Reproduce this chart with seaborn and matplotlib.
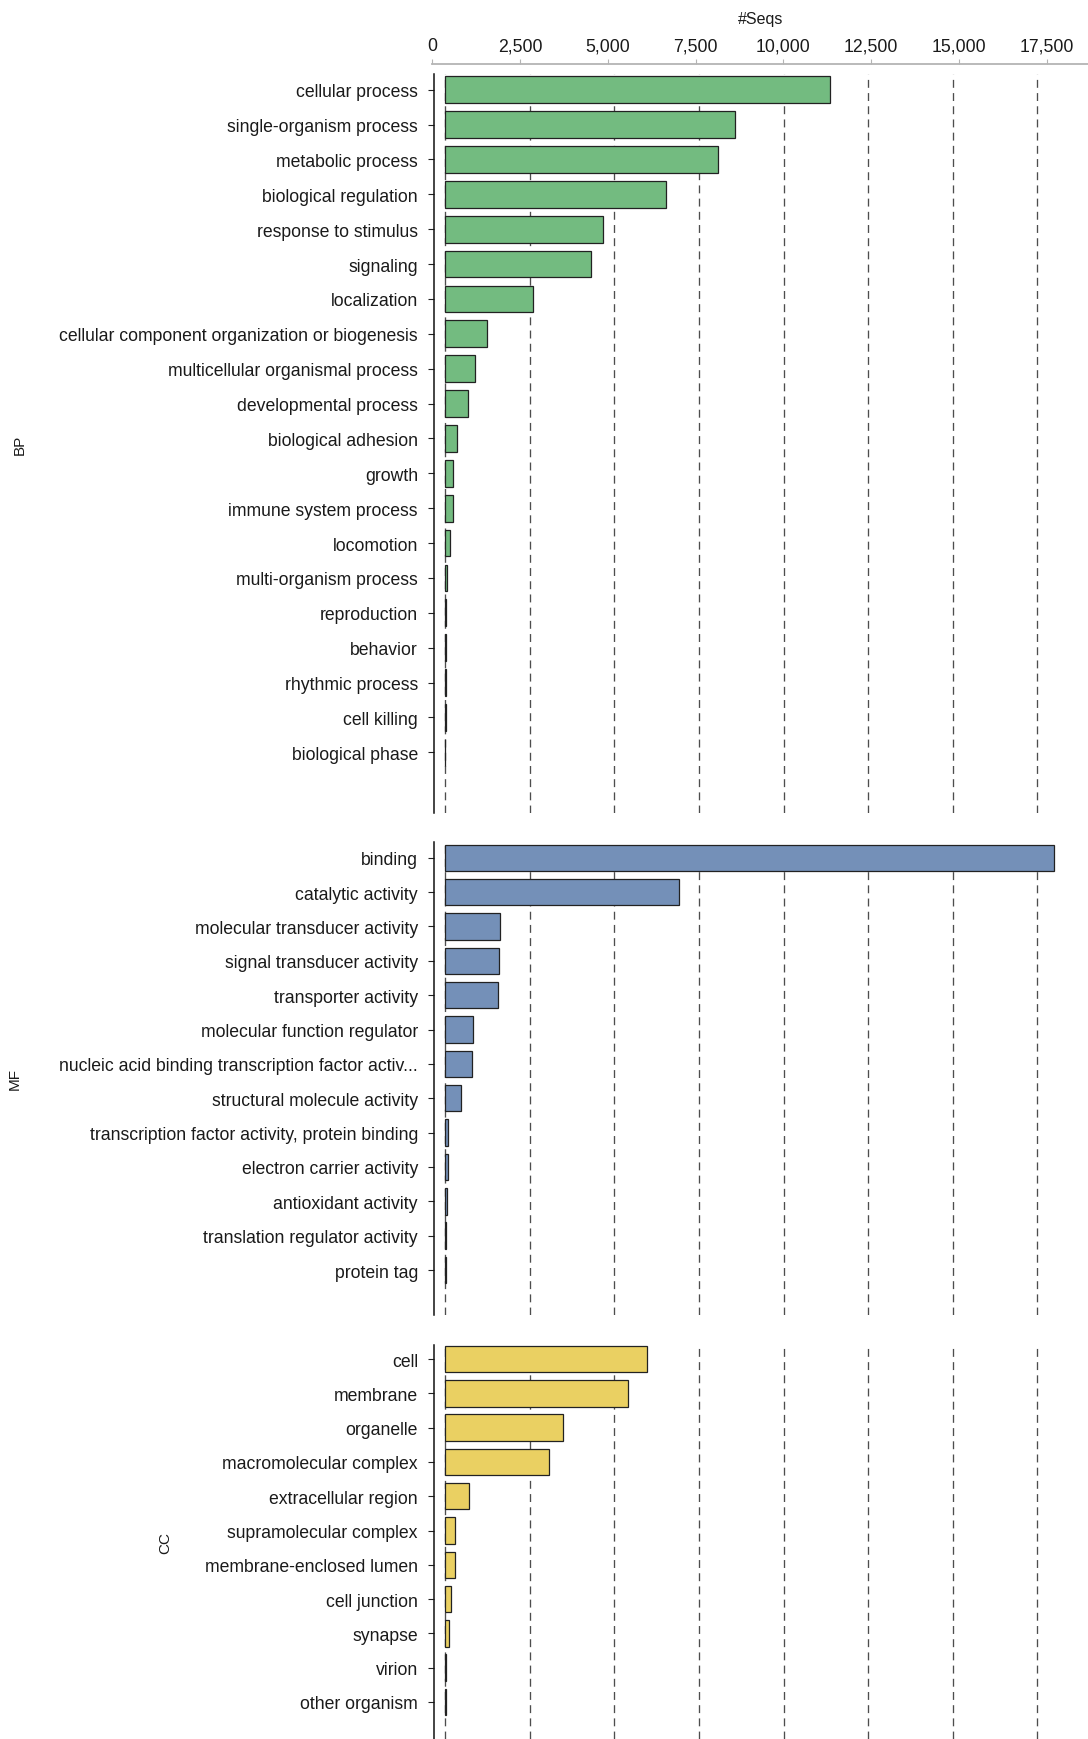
import seaborn as sns
import pandas as pd
import matplotlib.pyplot as plt
import numpy as np

# GO level-2 category counts
bp_terms = ['cellular process', 'single-organism process', 'metabolic process',
            'biological regulation', 'response to stimulus', 'signaling', 'localization',
            'cellular component organization or biogenesis', 'multicellular organismal process',
            'developmental process', 'biological adhesion', 'growth', 'immune system process',
            'locomotion', 'multi-organism process', 'reproduction', 'behavior',
            'rhythmic process', 'cell killing', 'biological phase']
bp_counts = [11380, 8550, 8060, 6510, 4670, 4310, 2590, 1240, 870, 665,
             345, 238, 228, 148, 40, 30, 20, 15, 8, 5]

mf_terms = ['binding', 'catalytic activity', 'molecular transducer activity',
            'signal transducer activity', 'transporter activity', 'molecular function regulator',
            'nucleic acid binding transcription factor activ...', 'structural molecule activity',
            'transcription factor activity, protein binding', 'electron carrier activity',
            'antioxidant activity', 'translation regulator activity', 'protein tag']
mf_counts = [18000, 6920, 1610, 1580, 1560, 805, 780, 450, 89, 69, 60, 10, 8]

cc_terms = ['cell', 'membrane', 'organelle', 'macromolecular complex', 'extracellular region',
            'supramolecular complex', 'membrane-enclosed lumen', 'cell junction', 'synapse',
            'virion', 'other organism']
cc_counts = [5950, 5390, 3490, 3070, 714, 298, 278, 169, 99, 10, 8]

grid_ticks = [0, 2500, 5000, 7500, 10000, 12500, 15000, 17500]
top_labels = ['0', '2,500', '5,000', '7,500', '10,000', '12,500', '15,000', '17,500']

sns.set_style('white')
plt.rcParams['font.family'] = ['Liberation Sans', 'DejaVu Sans']

W, H = 1088, 1740
fig = plt.figure(figsize=(W / 100, H / 100), dpi=100)


def px_axes(left, top, right, bottom):
    return fig.add_axes([left / W, 1 - bottom / H, (right - left) / W, (bottom - top) / H])


# top count axis (drawn separately from the panels)
top = px_axes(432.3, 65.0, 1088, 66.0)
top.set_xlim(0, 18680)
top.set_yticks([])
for s in ['left', 'right', 'bottom']:
    top.spines[s].set_visible(False)
top.spines['top'].set_color('#b4b4b4')
top.spines['top'].set_linewidth(1.3)
top.xaxis.tick_top()
top.set_xticks(grid_ticks)
top.set_xticklabels(top_labels)
top.tick_params(axis='x', direction='out', length=3.6, width=0.8, color='#b4b4b4',
                pad=3.5, labelsize=12.7, labelcolor='#1a1a1a')
top.xaxis.set_label_position('top')
top.set_xlabel('#Seqs', fontsize=11.5, labelpad=10.5, color='#1a1a1a')
top.patch.set_alpha(0)

panels = [
    ('BP', bp_terms, bp_counts, '#73BB80', (75, 814), (20.74, -0.45), -0.624),
    ('MF', mf_terms, mf_counts, '#7490B8', (843.3, 1315.7), (13.30, -0.45), -0.631),
    ('CC', cc_terms, cc_counts, '#EAD062', (1345.7, 1740), (11.08, -0.42), -0.401),
]

for name, terms, counts, color, (ytop, ybot), ylim, labx in panels:
    ax = px_axes(434.3, ytop, 1088, ybot)
    df = pd.DataFrame({'term': terms, 'count': counts})
    sns.barplot(data=df, x='count', y='term', ax=ax, color=color, saturation=1,
                edgecolor='#222222', linewidth=0.9, width=0.77, orient='h')
    ax.set_xlim(-325, 19000)
    ax.set_ylim(*ylim)
    ax.set_xticks(grid_ticks)
    ax.grid(axis='x', linestyle=(0, (6, 4)), color='#4d4d4d', linewidth=0.95)
    ax.grid(axis='y', visible=False)
    ax.set_axisbelow(True)
    ax.tick_params(axis='x', length=0, labelbottom=False)
    ax.tick_params(axis='y', direction='out', length=4.3, width=0.8, color='#222222',
                   pad=7.5, labelsize=12.7, labelcolor='#1a1a1a', left=True)
    for s in ['top', 'right', 'bottom']:
        ax.spines[s].set_visible(False)
    ax.spines['left'].set_color('#111111')
    ax.spines['left'].set_linewidth(1.1)
    ax.set_xlabel('')
    ax.set_ylabel(name, fontsize=11, color='#1a1a1a')
    ax.yaxis.set_label_coords(labx, 0.5)

fig.savefig('out.png', dpi=100)
